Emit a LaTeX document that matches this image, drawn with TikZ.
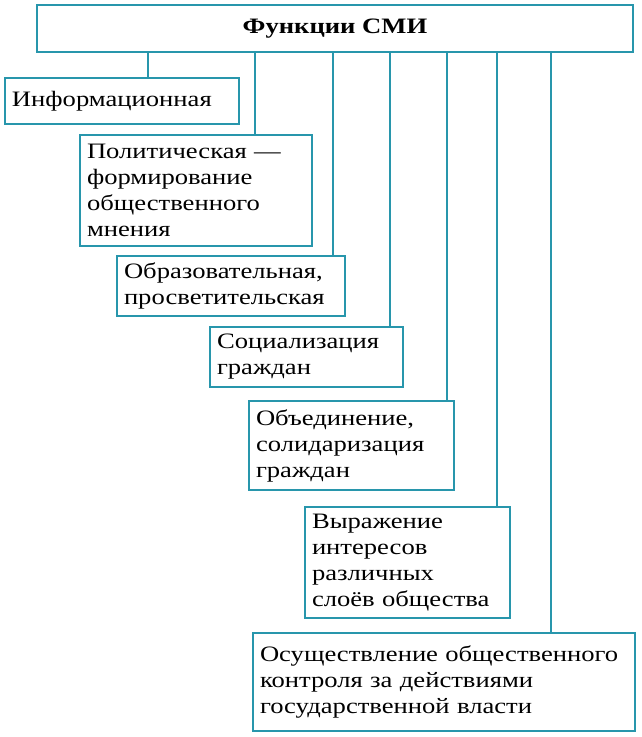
\documentclass[tikz,border=0pt]{standalone}
\usepackage{fontspec}
\setmainfont{Liberation Serif}[FakeStretch=1.21]
\begin{document}
\begin{tikzpicture}[x=1pt,y=-1pt,
  box/.style={draw=teal1,line width=1.6pt,rectangle,inner sep=0pt,font=\fontsize{22}{26}\selectfont,align=left},
  conn/.style={draw=teal1,line width=1.6pt}]
\definecolor{teal1}{RGB}{40,150,172}
\useasboundingbox (0,0) rectangle (641,737);
\newcommand{\bx}[6]{% name, x1,y1,x2,y2,text
  \node[box,minimum width={#4-#2},minimum height={#5-#3},text width={#4-#2-14}] (#1) at ({(#2+#4)/2+2},{(#3+#5)/2}) {#6};}
\node[draw=teal1,line width=1.6pt,minimum width=596,minimum height=47,font=\fontsize{22}{26}\selectfont\bfseries] (title) at (335,28.5) {Функции СМИ};
\bx{b1}{3}{78}{237}{124}{Информационная}
\bx{b2}{78}{135}{310}{246}{Политическая —\\формирование\\общественного\\мнения}
\bx{b3}{115}{256}{343}{316}{Образовательная,\\просветительская}
\bx{b4}{208}{327}{401}{387}{Социализация\\граждан}
\bx{b5}{247}{401}{452}{490}{Объединение,\\солидаризация\\граждан}
\bx{b6}{303}{507}{508}{618}{Выражение\\интересов\\различных\\слоёв общества}
\bx{b7}{251}{633}{633}{731}{Осуществление общественного\\контроля за действиями\\государственной власти}
\foreach \n/\x in {1/148,2/255,3/333,4/390,5/447,6/497,7/551}{
  \coordinate (x\n) at (\x,0);
  \draw[conn] (title.south -| x\n) -- (b\n.north -| x\n);
}
\end{tikzpicture}
\end{document}
